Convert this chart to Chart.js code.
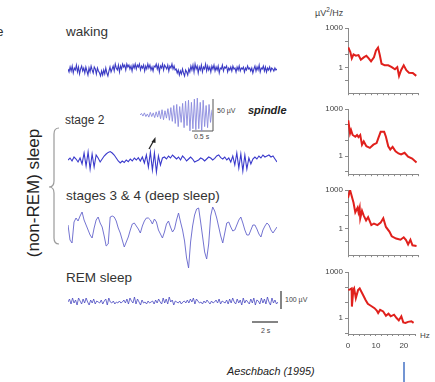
<!DOCTYPE html>
<html>
<head>
<meta charset="utf-8">
<script src="https://cdn.jsdelivr.net/npm/chart.js@4.4.0/dist/chart.umd.min.js"></script>
<style>
body { margin: 0; background: #fff; }
#fig { position: relative; width: 435px; height: 382px; overflow: hidden; font-family: Arial, "Liberation Sans", sans-serif; color: #333; }
#fig canvas, #fig .t, #fig svg { position: absolute; }
.t { white-space: nowrap; line-height: 1; }
.sm { font-size: 7px; color: #444; }
</style>
</head>
<body>
<div id="fig">
  <svg width="435" height="382" style="left:0;top:0">
    <path d="M59,128 Q54,128 54,134 L54,181 Q54,187 49,187 Q54,187 54,193 L54,238 Q54,244 59,244" fill="none" stroke="#9a9a9a" stroke-width="1.2"/>
    <line x1="149" y1="149" x2="153.5" y2="141" stroke="#222" stroke-width="1.3"/>
    <polygon points="155.5,137 151.5,142 155.5,143" fill="#222"/>
    <polyline points="192,131 213,131 213,99" fill="none" stroke="#555" stroke-width="1"/>
    <line x1="281" y1="291" x2="281" y2="309" stroke="#333" stroke-width="1.2"/>
    <line x1="252" y1="322" x2="278" y2="322" stroke="#333" stroke-width="1.2"/>
    <line x1="404" y1="362" x2="404" y2="382" stroke="#4472c4" stroke-width="1.5"/>
  </svg>

  <div class="t" style="left:-4px;top:25px;font-size:13.5px">e</div>
  <div class="t" style="left:66px;top:25px;font-size:13.5px">waking</div>
  <div class="t" style="left:65px;top:114px;font-size:12px">stage 2</div>
  <div class="t" style="left:66px;top:188.5px;font-size:13.5px">stages 3 &amp; 4 (deep sleep)</div>
  <div class="t" style="left:66px;top:270.5px;font-size:13.5px">REM sleep</div>
  <div class="t" style="left:33px;top:193px;font-size:17px;color:#222;transform:translate(-50%,-50%) rotate(-90deg)">(non-REM) sleep</div>
  <div class="t" style="left:248px;top:105px;font-size:11px;font-weight:bold;font-style:italic;color:#222">spindle</div>
  <div class="t sm" style="left:217px;top:107px">50 µV</div>
  <div class="t sm" style="left:194px;top:133px">0.5 s</div>
  <div class="t sm" style="left:285px;top:296px">100 µV</div>
  <div class="t sm" style="left:261px;top:327px">2 s</div>
  <div class="t" style="left:227px;top:366px;font-size:10.8px;font-style:italic;color:#222">Aeschbach (1995)</div>
  <div class="t" style="left:315px;top:7px;font-size:9px;color:#444">µV<sup style="font-size:6.5px">2</sup>/Hz</div>
  <div class="t" style="left:420px;top:332px;font-size:8px;color:#444">Hz</div>

  <canvas id="cWake" width="209" height="30" style="left:68px;top:55px"></canvas>
  <canvas id="cStage2" width="209" height="40" style="left:68px;top:140px"></canvas>
  <canvas id="cSpindle" width="72" height="38" style="left:140px;top:96px"></canvas>
  <canvas id="cDeep" width="209" height="80" style="left:68px;top:200px"></canvas>
  <canvas id="cRem" width="210" height="28" style="left:68px;top:288px"></canvas>

  <canvas id="pWake" width="102" height="80" style="left:318px;top:20px"></canvas>
  <canvas id="pStage2" width="102" height="80" style="left:318px;top:101px"></canvas>
  <canvas id="pDeep" width="102" height="80" style="left:318px;top:182px"></canvas>
  <canvas id="pRem" width="102" height="90" style="left:318px;top:264px"></canvas>
</div>

<script>
// EEG traces, µV (about 5 µV per pixel), equally spaced samples
const wakingEeg = [
  5,-10,15,-5,20,-15,10,0,25,-10,15,-20,5,20,-5,10,-15,15,-5,-25,
  10,-10,20,0,-15,15,5,-20,10,-5,
  -15,-30,-5,-25,0,-20,10,-15,-30,-5,15,-10,5,
  20,-5,30,10,0,25,-10,20,5,30,15,25,0,30,15,25,5,20,-5,25,
  10,30,5,25,15,30,0,20,10,25,-5,20,5,30,10,25,0,15,-5,20,
  15,30,5,25,-10,20,10,30,0,25,15,5,25,-5,20,10,30,5,20,0,
  5,-15,0,-25,-5,-20,5,-15,-30,0,-10,-25,5,-10,
  20,0,25,-10,30,5,20,-15,15,0,25,-10,15,5,30,-5,20,0,15,-10,
  20,5,25,-5,15,0,20,-15,10,5,25,-5,15,10,20,-10,10,0,15,-5,
  20,5,10,-10,15,0,20,-5,10,5,15,-10,10,0,20,5,10,-5,10,-15,
  5,20,-5,15,0,25,-10,10,5,20,-5,15,-10,10,0,15,-5,10,5,-5,10,0,5
];
const stage2Eeg = [
  0,10,-5,15,5,-10,10,-20,35,-30,
  40,-45,30,-35,25,10,-10,5,20,30,
  38,42,35,25,10,-5,-15,-5,-12,0,
  -8,5,-5,10,0,12,-5,15,-15,25,
  -35,40,-50,35,-60,20,-25,10,15,5,
  20,10,25,15,5,15,0,20,10,-5,
  5,15,5,-10,-5,0,10,5,-5,5,
  15,10,0,8,20,25,12,5,15,0,
  10,-10,20,-25,35,-40,30,-55,25,-45,
  10,-20,5,15,5,20,10,25,15,20,
  25,15,20,5,-10
];
const spindleEeg = [
  0,3,-2,4,-3,2,-4,5,-3,4,
  -5,6,-4,8,-7,10,-9,8,-6,12,
  -10,14,-12,18,-16,20,-22,16,-14,22,
  -24,26,-20,28,-30,24,-26,30,-28,32,
  -26,24,-30,28,-22,18,-24,20,-14,10
];
const deepEeg = [
  35,-40,-55,50,70,55,80,100,60,35,
  10,-15,-30,20,60,75,45,25,-20,-70,
  -60,75,80,75,55,20,-5,-40,-75,-50,
  -25,10,40,45,30,15,-5,30,55,70,
  70,60,40,65,50,10,-10,-30,0,40,
  55,25,0,15,60,95,50,10,-45,-130,
  -180,-50,30,85,115,120,50,-25,-100,-135,
  -60,80,125,105,70,25,-20,-55,-5,45,
  50,25,5,10,35,60,75,45,10,-15,
  -15,10,35,35,15,-10,-25,10,30,45,
  35,10,-5,10,25
];
const remEeg = [
  0,15,-10,20,-5,10,-15,20,5,-10,
  15,-5,20,0,-15,10,-5,15,-10,5,
  0,-5,10,-10,5,15,-15,20,0,-5,
  5,-10,0,-5,5,-5,0,10,-5,15,
  -10,20,5,-5,25,-10,15,0,-15,10,
  -5,0,-10,5,-5,0,5,-10,10,-5,
  15,0,-10,20,-5,15,-10,25,0,10,
  -15,5,0,-5,5,-10,0,5,-5,10,
  -5,15,0,20,-10,15,5,-5,0,-10,
  5,-5,10,0,-10,5,-5,0,10,-5,
  15,-10,5,0,-5,10,-10,15,-5,20,
  0,-10,15,-5,10,-15,20,-5,10,0,
  -10,15,-5,20,-15,10,5,-10,20,-5,
  15,-10,25,0,-15,20,-5,10,-10,0
];

// power spectra, frequency (Hz) and power (µV²/Hz)
const wakeHz  = [0.1,0.8,1.3,1.9,2.7,3.6,4.4,5.4,6.3,7.1,7.9,8.9,9.6,10.3,10.9,11.5,12.6,13.8,15,16.1,16.9,17.5,18.2,19.1,20,20.9,22.2,23.4];
const wakePow = [35,15,5,10,8,9,4,6,8,5,3,6,20,33,9,2,1.5,1.5,1.1,0.75,1.1,0.24,0.65,1.5,0.65,0.42,0.4,0.24];
const stage2Hz  = [0.1,0.7,1.05,1.6,2.5,3.1,3.6,4.2,4.8,5.4,6.3,7.5,8.7,9.8,10.4,11.2,12.4,13,13.8,14.5,15.3,16.3,17.3,18.2,19.4,20.6,22,23.5];
const stage2Pow = [190,28,45,22,17,22,16,22,5.3,8.5,4.2,3.3,5.3,6.7,14,35,35,17,4.2,2.6,3.8,2,1.45,1.25,1.6,0.9,0.68,0.38];
const deepHz  = [0,0.7,1.9,2.5,3.3,3.6,4,4.2,4.8,5.4,6.2,6.9,8,8.9,10.1,11.2,12.1,13,14.2,15,16.5,18,19.1,19.9,20.6,21.4,22.1,23.5];
const deepPow = [237,1000,100,18,42,18,42,6.3,24,10,4.2,7.5,1.8,2.4,1.8,2.8,6.3,1.3,0.56,0.24,0.16,0.13,0.2,0.12,0.056,0.13,0.047,0.042];
const remHz  = [0.1,0.7,1.3,1.4,1.9,2.2,2.8,3.6,4.2,4.8,5.4,6.3,7.1,8.3,9.5,10.3,10.8,11.5,12.6,13.6,14.5,15.3,16.5,17.4,18.2,19.1,19.8,20.6,21.5,22.7,23.5];
const remPow = [66,74,85,5.6,66,85,19.5,66,85,52,32,15,8.4,6.1,4.4,3.1,2.1,3.4,2.7,1.4,1.9,1.3,1.65,1,0.7,1.3,0.52,0.48,0.56,0.62,0.48];

const yTicks = [1000, 100, 10, 1, 0.1];
const yLabels = ['1000', '1'];
const xLabels = ['0', '10', '20'];

function drawTrace(id, values, color, width, lo, hi) {
  new Chart(document.getElementById(id), {
    type: 'line',
    data: {
      labels: values.map((v, i) => i),
      datasets: [{ data: values, borderColor: color, borderWidth: width, pointRadius: 0, tension: 0 }]
    },
    options: {
      responsive: false,
      animation: false,
      layout: { padding: 0 },
      plugins: { legend: { display: false }, tooltip: { enabled: false } },
      scales: {
        x: { display: false },
        y: { display: false, min: lo, max: hi }
      }
    }
  });
}

drawTrace('cWake', wakingEeg, '#3b3bc4', 1.1, -75, 75);
drawTrace('cStage2', stage2Eeg, '#3a3acc', 1.1, -100, 100);
drawTrace('cSpindle', spindleEeg, '#8a8ade', 0.9, -36, 36);
drawTrace('cDeep', deepEeg, '#6464cc', 0.9, -240, 160);
drawTrace('cRem', remEeg, '#4848c0', 0.8, -70, 70);

function drawSpectrum(id, hz, pow, yMin, showX) {
  new Chart(document.getElementById(id), {
    type: 'line',
    data: {
      datasets: [{
        data: hz.map((f, i) => ({ x: f, y: pow[i] })),
        borderColor: '#e0201c', borderWidth: 2, pointRadius: 0, tension: 0
      }]
    },
    options: {
      responsive: false,
      animation: false,
      layout: { padding: { top: 8, right: 2, left: 0, bottom: 0 } },
      plugins: { legend: { display: false }, tooltip: { enabled: false } },
      scales: {
        x: {
          type: 'linear', min: 0, max: 24,
          afterFit: s => { s.height = showX ? 20 : 3; },
          border: { color: '#8a8a8a' },
          grid: { drawOnChartArea: false, tickLength: 2, color: '#8a8a8a' },
          ticks: {
            display: showX, stepSize: 2, autoSkip: false, maxRotation: 0,
            font: { size: 8 }, color: '#444', padding: 5,
            callback: v => (xLabels.includes(String(v)) ? String(v) : '')
          }
        },
        y: {
          type: 'logarithmic', min: yMin, max: 1000,
          afterFit: s => { s.width = 30; },
          afterBuildTicks: s => { s.ticks = yTicks.map(v => ({ value: v })); },
          border: { color: '#8a8a8a' },
          grid: { drawOnChartArea: false, tickLength: 3, color: '#8a8a8a' },
          ticks: {
            font: { size: 8 }, color: '#444', padding: 2,
            callback: v => (yLabels.includes(String(v)) ? String(v) : '')
          }
        }
      }
    }
  });
}

drawSpectrum('pWake', wakeHz, wakePow, 0.0118, false);
drawSpectrum('pStage2', stage2Hz, stage2Pow, 0.069, false);
drawSpectrum('pDeep', deepHz, deepPow, 0.008, false);
drawSpectrum('pRem', remHz, remPow, 0.091, true);
</script>
</body>
</html>
